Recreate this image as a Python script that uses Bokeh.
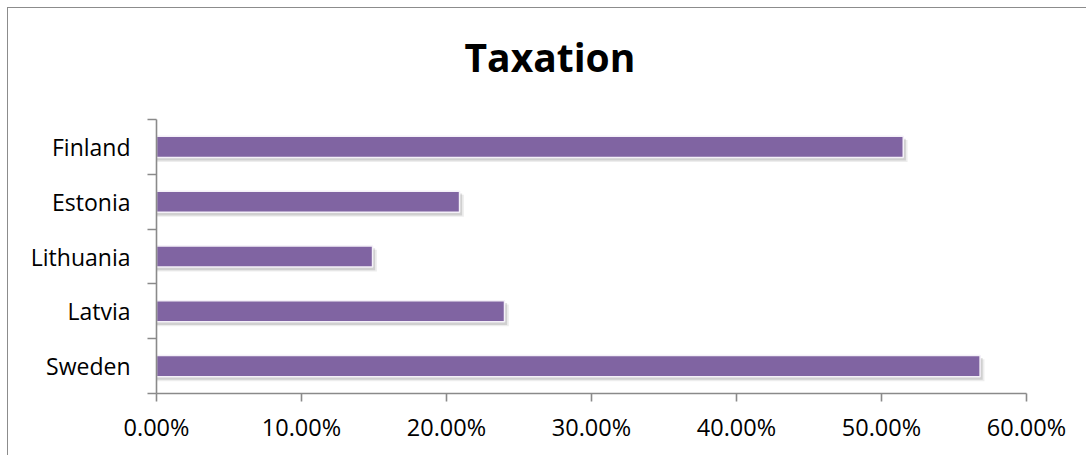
from bokeh.plotting import figure
from bokeh.models import (ColumnDataSource, Range1d, FixedTicker, NumeralTickFormatter,
                          LinearAxis, Title)
from bokeh.transform import dodge
from bokeh.embed import file_html
from bokeh.resources import INLINE

# ---- data (bottom to top as drawn) ----
countries = ["Sweden", "Latvia", "Lithuania", "Estonia", "Finland"]
taxation = [0.568, 0.240, 0.149, 0.209, 0.515]
x_ticks = [0.0, 0.1, 0.2, 0.3, 0.4, 0.5, 0.6]
title_text = "Taxation"

pos = [i + 0.5 for i in range(len(countries))]
src = ColumnDataSource(dict(y=pos, v=taxation, name=countries))

FONT = "Open Sans"
GRAY = "#8a8a8a"
LW = 1.6

p = figure(width=1078, height=447, output_backend="svg", toolbar_location=None,
           title=None,
           x_range=Range1d(0, 0.6), y_range=Range1d(0, len(countries)),
           x_axis_type=None, y_axis_type=None,
           frame_width=870, frame_height=274,
           min_border_left=148, min_border_right=60,
           min_border_top=111, min_border_bottom=62)
p.styles = {"margin-left": "7px", "margin-top": "7px",
            "border-top": "1px solid #8c8c8c", "border-left": "1px solid #8c8c8c"}
p.outline_line_color = None
p.background_fill_color = "white"
p.border_fill_color = "white"

# spacer between title and frame, then the title itself
spacer = Title(text=" ", text_font_size="1px", standoff=34)
p.add_layout(spacer, "above")
main_title = Title(text=title_text, align="left", offset=308, standoff=0,
                   text_font=FONT, text_font_style="bold", text_font_size="39px",
                   text_color="black")
p.add_layout(main_title, "above")

# x axis
xa = LinearAxis(ticker=FixedTicker(ticks=x_ticks, minor_ticks=[]),
                formatter=NumeralTickFormatter(format="0.00%"))
xa.axis_line_color = GRAY
xa.axis_line_width = LW
xa.major_tick_line_color = GRAY
xa.major_tick_line_width = LW
xa.major_tick_out = 8
xa.major_tick_in = 0
xa.minor_tick_line_color = None
xa.major_label_standoff = 9
xa.major_label_text_font = FONT
xa.major_label_text_font_size = "23.5px"
xa.major_label_text_color = "black"
p.add_layout(xa, "below")

# y axis: labels at centers, ticks at category boundaries
ya = LinearAxis(ticker=FixedTicker(ticks=pos, minor_ticks=list(range(len(countries) + 1))))
ya.major_label_overrides = {pp: c for pp, c in zip(pos, countries)}
ya.axis_line_color = GRAY
ya.axis_line_width = LW
ya.major_tick_line_color = None
ya.major_tick_out = 0
ya.major_tick_in = 0
ya.minor_tick_line_color = GRAY
ya.minor_tick_line_width = LW
ya.minor_tick_out = 9
ya.minor_tick_in = 0
ya.major_label_standoff = 17
ya.major_label_text_font = FONT
ya.major_label_text_font_size = "23px"
ya.major_label_text_color = "black"
p.add_layout(ya, "left")

# vertical gridlines
p.xgrid.grid_line_color = GRAY
p.xgrid.grid_line_width = LW
p.xgrid.ticker = FixedTicker(ticks=x_ticks)
p.ygrid.grid_line_color = None

# shadows
p.hbar(y=dodge("y", -0.075), left=0, right=dodge("v", 0.003), height=0.40,
       source=src, fill_color="#000000", fill_alpha=0.07, line_color=None)
p.hbar(y=dodge("y", -0.05), left=0, right=dodge("v", 0.0018), height=0.40,
       source=src, fill_color="#000000", fill_alpha=0.12, line_color=None)
# bars
p.hbar(y="y", left=0, right="v", height=0.385, source=src,
       fill_color="#8064A2", line_color="#f4f0f8", line_width=1.5)

open("out.html", "w").write(file_html(p, INLINE))
